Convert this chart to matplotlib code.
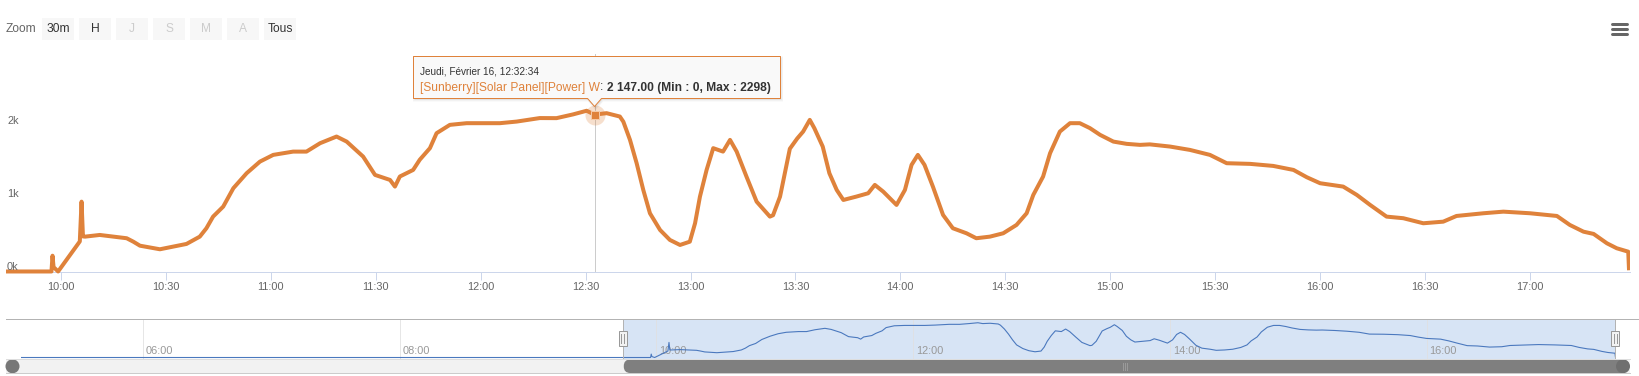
import matplotlib
matplotlib.use("Agg")
import matplotlib.pyplot as plt
import matplotlib.dates as mdates
import matplotlib.transforms as mtransforms
from matplotlib.patches import Rectangle, FancyBboxPatch, Polygon, Circle
from matplotlib.lines import Line2D
import pandas as pd

plt.rcParams['font.family'] = ['Liberation Sans', 'DejaVu Sans']

# ---------------- data ----------------
DAY = "2017-02-16"
times = [
    "05:03:00", "09:57:18", "09:57:36", "09:57:54", "09:59:12", "10:05:24", "10:05:54", "10:06:18",
    "10:06:54", "10:11:06", "10:18:48", "10:20:42", "10:22:36", "10:28:18", "10:32:06", "10:35:54",
    "10:39:42", "10:41:36", "10:43:30", "10:46:24", "10:49:18", "10:53:06", "10:56:54", "11:00:42",
    "11:06:24", "11:10:12", "11:14:06", "11:18:48", "11:21:42", "11:26:24", "11:29:48", "11:34:06",
    "11:35:30", "11:36:54", "11:40:42", "11:42:36", "11:45:30", "11:47:24", "11:51:12", "11:56:00",
    "12:05:30", "12:10:18", "12:16:54", "12:21:42", "12:26:24", "12:30:18", "12:32:34", "12:36:00",
    "12:39:48", "12:40:48", "12:42:42", "12:44:36", "12:46:30", "12:48:24", "12:51:18", "12:54:06",
    "12:57:00", "12:59:48", "13:01:18", "13:02:42", "13:04:36", "13:06:30", "13:09:18", "13:11:18",
    "13:13:12", "13:16:00", "13:18:54", "13:22:42", "13:23:36", "13:25:36", "13:28:24", "13:30:30",
    "13:32:12", "13:34:06", "13:35:24", "13:37:48", "13:39:42", "13:41:48", "13:43:42", "13:47:24",
    "13:50:48", "13:52:42", "13:55:06", "13:58:54", "14:01:18", "14:03:12", "14:05:00", "14:06:54",
    "14:09:18", "14:12:12", "14:15:00", "14:18:54", "14:21:42", "14:25:36", "14:29:24", "14:33:12",
    "14:36:06", "14:38:00", "14:40:48", "14:42:48", "14:45:36", "14:48:30", "14:51:18", "14:54:12",
    "14:57:06", "15:00:54", "15:04:42", "15:08:30", "15:11:18", "15:17:06", "15:22:48", "15:28:30",
    "15:33:18", "15:40:00", "15:46:36", "15:52:24", "15:56:12", "16:00:00", "16:06:36", "16:10:30",
    "16:14:18", "16:19:00", "16:23:48", "16:29:30", "16:35:12", "16:39:00", "16:46:42", "16:52:24",
    "17:00:00", "17:07:42", "17:11:24", "17:15:18", "17:18:12", "17:22:00", "17:24:48", "17:28:06",
    "17:28:18",
]
power_w = [
    0, 0, 216, 60, 0, 411, 956, 480,
    477, 500, 455, 408, 353, 304, 340, 377,
    477, 592, 751, 888, 1140, 1345, 1504, 1596,
    1641, 1641, 1756, 1847, 1778, 1573, 1322, 1253,
    1162, 1300, 1390, 1530, 1688, 1893, 2007, 2030,
    2030, 2052, 2100, 2099, 2150, 2200, 2147, 2167,
    2121, 2050, 1801, 1482, 1116, 797, 568, 432,
    363, 408, 660, 1025, 1390, 1688, 1641, 1801,
    1641, 1299, 956, 751, 770, 1025, 1680, 1820,
    1915, 2075, 1962, 1710, 1345, 1116, 979, 1025,
    1071, 1185, 1093, 911, 1116, 1459, 1596, 1459,
    1162, 774, 592, 523, 455, 477, 523, 637,
    797, 1048, 1299, 1619, 1915, 2030, 2030, 1962,
    1870, 1778, 1747, 1733, 1740, 1710, 1664, 1596,
    1482, 1473, 1445, 1390, 1290, 1208, 1162, 1048,
    911, 751, 729, 660, 682, 760, 797, 819,
    797, 760, 637, 545, 514, 386, 318, 271,
    44,
]
x_tick_labels = ["10:00", "10:30", "11:00", "11:30", "12:00", "12:30", "13:00", "13:30",
                 "14:00", "14:30", "15:00", "15:30", "16:00", "16:30", "17:00"]
y_tick_values = [0, 1000, 2000]
y_tick_labels = ["0k", "1k", "2k"]
nav_tick_labels = ["06:00", "08:00", "10:00", "12:00", "14:00", "16:00"]
zoom_buttons = ["30m", "H", "J", "S", "M", "A", "Tous"]
zoom_enabled = [True, True, False, False, False, False, True]
view_start, view_end = "09:44:18", "17:28:36"
hover_time = "12:32:34"
tooltip_header = "Jeudi, Février 16, 12:32:34"
series_name = "[Sunberry][Solar Panel][Power] W"
series_min, series_max = 0, 2298

# ---------------- helpers ----------------
W, H = 1639, 376
ORANGE = "#df823b"
fig = plt.figure(figsize=(W / 100, H / 100), dpi=100)
T = mtransforms.Affine2D().scale(1, -1).translate(0, H)  # pixel coords, origin top-left


def rect(x0, y0, x1, y1):
    return [x0 / W, 1 - y1 / H, (x1 - x0) / W, (y1 - y0) / H]


def tnum(s):
    return mdates.date2num(pd.Timestamp(DAY + " " + s))


def px(v):
    return v * 0.72


tn = [tnum(s) for s in times]

# ---------------- main chart ----------------
ax = fig.add_axes(rect(6, 54, 1630, 271.7))
ax.set_xlim(tnum(view_start), tnum(view_end))
ax.set_ylim(-3, 2977)
for s in ["top", "left", "right"]:
    ax.spines[s].set_visible(False)
ax.spines["bottom"].set_color("#ccd6eb")
ax.spines["bottom"].set_linewidth(px(1))
ax.set_yticks([])
ax.set_xticks([tnum(l) for l in x_tick_labels])
ax.tick_params(axis="x", length=px(8), width=px(1), color="#ccd6eb", labelbottom=False)
ax.patch.set_alpha(0)

# crosshair
hx = tnum(hover_time)
ax.axvline(hx, color="#cccccc", lw=px(1), zorder=1)

line, = ax.plot(tn, power_w, color=ORANGE, lw=px(4), solid_joinstyle="round", zorder=3)
line.set_clip_box(mtransforms.TransformedBbox(mtransforms.Bbox([[0, -0.05], [1, 1.05]]), ax.transAxes))

# hover marker
hv = power_w[times.index(hover_time)]
ax.plot([hx], [hv], "o", ms=px(20), color=ORANGE, alpha=0.25, mew=0, zorder=4)
ax.plot([hx], [hv], "s", ms=px(8), mfc=ORANGE, mec="#f5c9a6", mew=px(1), zorder=5)

# x labels
bx = mtransforms.blended_transform_factory(ax.transData, T)
for l in x_tick_labels:
    ax.text(tnum(l), 286.5, l, transform=bx, ha="center", va="center", fontsize=px(11), color="#666666")
# y labels
by = mtransforms.offset_copy(mtransforms.blended_transform_factory(T, ax.transData), fig=fig, y=4.8, units="dots")
for v, l in zip(y_tick_values, y_tick_labels):
    ax.text(7, v, l, transform=by, ha="left", va="center", fontsize=px(11), color="#666666")

# ---------------- tooltip ----------------
bx0, by0, bx1, by1 = 413.5, 56.5, 780.5, 98.5
tipx = ax.transData.transform((hx, hv))[0]
tip_y = 106.5
poly = [(bx0, by0), (bx1, by0), (bx1, by1), (tipx + 7, by1), (tipx, tip_y), (tipx - 7, by1), (bx0, by1)]
fig.add_artist(Polygon([(x + 1, y + 1.5) for x, y in poly], closed=True, transform=T,
                       facecolor=(0, 0, 0, 0.06), edgecolor=(0, 0, 0, 0.05), lw=2, zorder=9))
fig.add_artist(Polygon(poly, closed=True, transform=T, facecolor="#f9f9f9", edgecolor=ORANGE,
                       lw=px(1), joinstyle="round", zorder=10))
fig.text(420.5, 71.5, tooltip_header, transform=T, fontsize=px(10), color="#333333",
         ha="left", va="center", zorder=11)
renderer = fig.canvas.get_renderer()
val_txt = f"{hv:,.2f}".replace(",", " ")
pieces = [(series_name, ORANGE, "normal"), (": ", "#333333", "normal"),
          (f"{val_txt} (Min : {series_min}, Max : {series_max})", "#333333", "bold")]
cx = 420.5
for s, c, w in pieces:
    t = fig.text(cx, 87.5, s, transform=T, fontsize=px(12), color=c, fontweight=w,
                 ha="left", va="center", zorder=11)
    cx = t.get_window_extent(renderer).x1

# ---------------- range selector ----------------
fig.text(6, 28.5, "Zoom", transform=T, fontsize=px(12), color="#666666", ha="left", va="center")
for i, (lab, en) in enumerate(zip(zoom_buttons, zoom_enabled)):
    x0 = 42.3 + i * 37
    fig.add_artist(Rectangle((x0, 18.3), 32, 21.7, transform=T, facecolor="#f7f7f7", edgecolor="none"))
    fig.text(x0 + 16, 28.5, lab, transform=T, fontsize=px(12), ha="center", va="center",
             color="#333333" if en else "#cccccc")

# hamburger
for yy in (24.3, 29.3, 34.3):
    fig.add_artist(Line2D([1611.5, 1626.5], [yy, yy], transform=T, color="#666666", lw=px(3),
                          solid_capstyle="round"))

# ---------------- navigator ----------------
nav = fig.add_axes(rect(21, 319.3, 1615.4, 358.5))
nav.set_xlim(tn[0], tn[-1])
nav.set_ylim(-63, 2418)
nav.axis("off")
nav.axvspan(tnum(view_start), tnum(view_end), color="#d7e4f5", lw=0, zorder=0)
for l in nav_tick_labels:
    nav.axvline(tnum(l), color="#e0e0e0", lw=px(1), alpha=0.8, zorder=1)
bn = mtransforms.offset_copy(mtransforms.blended_transform_factory(nav.transData, T), fig=fig, x=3, units="dots")
for l in nav_tick_labels:
    nav.text(tnum(l), 351, l, transform=bn, ha="left", va="center", fontsize=px(11), color="#999999", zorder=2)
nav.plot(tn, power_w, color="#4a78be", lw=px(1.1), zorder=3)

sx0 = nav.transData.transform((tnum(view_start), 0))[0]
sx1 = min(nav.transData.transform((tnum(view_end), 0))[0], 1615.4)

# outline
fig.add_artist(Line2D([6, W], [319.3, 319.3], transform=T, color="#b3b3b3", lw=px(1)))
for xx in (sx0, sx1):
    fig.add_artist(Line2D([xx, xx], [319.3, 358.5], transform=T, color="#b3b3b3", lw=px(1)))

# scrollbar
fig.add_artist(Rectangle((6, 359), 1624, 14, transform=T, facecolor="#f2f2f2", edgecolor="none"))
fig.add_artist(Line2D([6, 1630], [372.8, 372.8], transform=T, color="#cccccc", lw=px(1)))
fig.add_artist(Line2D([6, 1630], [359, 359], transform=T, color="#dddddd", lw=px(1)))
fig.add_artist(Circle((12.5, 366.3), 7, transform=T, facecolor="#777777", edgecolor="none"))
fig.add_artist(FancyBboxPatch((sx0 + 1, 359.5), 1628 - sx0 - 1, 13.5, boxstyle="round,pad=0,rounding_size=6.5",
                              transform=T, facecolor="#7f7f7f", edgecolor="none"))
fig.add_artist(Circle((1623, 366.3), 7, transform=T, facecolor="#6f6f6f", edgecolor="none"))
gx = (sx0 + 1628) / 2
for d in (-2, 0, 2):
    fig.add_artist(Line2D([gx + d, gx + d], [362.5, 369.5], transform=T, color="#9a9a9a", lw=px(1)))

# handles
for xx in (sx0, sx1):
    fig.add_artist(Rectangle((xx - 4, 331), 8, 15, transform=T, facecolor="#f2f2f2", edgecolor="#999999",
                             lw=px(1), zorder=6))
    for d in (-1.5, 1.5):
        fig.add_artist(Line2D([xx + d, xx + d], [334, 343], transform=T, color="#999999", lw=px(1), zorder=7))

fig.savefig("out.png", dpi=100)
